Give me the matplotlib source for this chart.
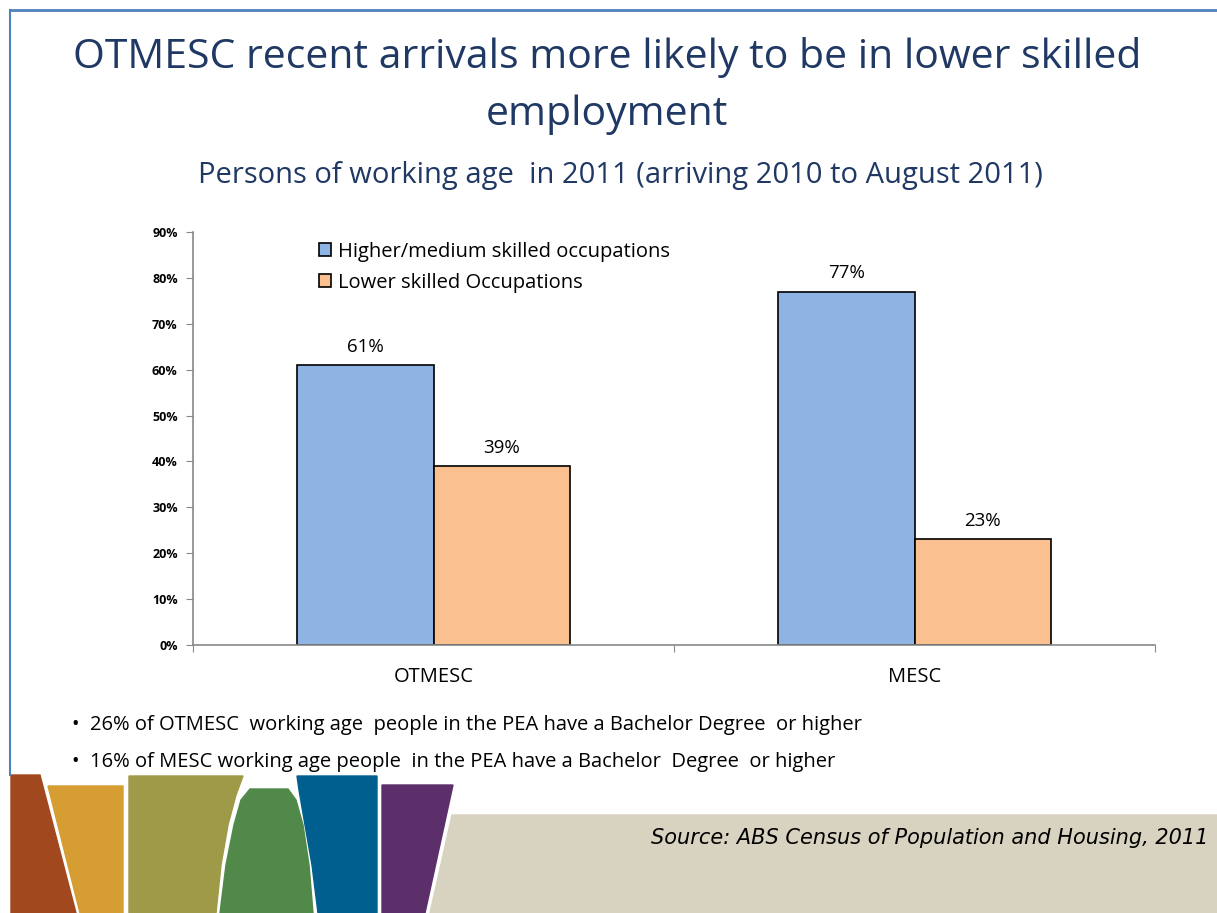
import matplotlib
matplotlib.use("Agg")
import matplotlib.pyplot as plt
import numpy as np
from matplotlib.patches import Polygon

categories = ["OTMESC", "MESC"]
series_names = ["Higher/medium skilled occupations", "Lower skilled Occupations"]
higher = [61, 77]
lower = [39, 23]
yticks = [0, 10, 20, 30, 40, 50, 60, 70, 80, 90]

title_lines = ["OTMESC recent arrivals more likely to be in lower skilled", "employment"]
subtitle = "Persons of working age  in 2011 (arriving 2010 to August 2011)"
bullets = ["•  26% of OTMESC  working age  people in the PEA have a Bachelor Degree  or higher",
           "•  16% of MESC working age people  in the PEA have a Bachelor  Degree  or higher"]
source = "Source: ABS Census of Population and Housing, 2011"

W, H = 1217, 913
fig = plt.figure(figsize=(W / 100, H / 100), dpi=100)
fig.patch.set_facecolor("white")
FONT = "Open Sans"
NAVY = "#1F3864"

def fx(x): return x / W
def fy(y): return 1 - y / H

# slide border
fig.add_artist(plt.Line2D([fx(10), 1], [fy(10), fy(10)], color="#4F81BD", lw=2))
fig.add_artist(plt.Line2D([fx(10), fx(10)], [fy(10), fy(775)], color="#4F81BD", lw=1.5))

# title & subtitle
fig.text(fx(607), fy(58), title_lines[0], ha="center", va="center", fontsize=29.5, color=NAVY,
         family=FONT)
fig.text(fx(607), fy(115), title_lines[1], ha="center", va="center", fontsize=29.5, color=NAVY,
         family=FONT)
fig.text(fx(620), fy(176), subtitle, ha="center", va="center", fontsize=21, color=NAVY,
         family=FONT)

# chart
ax = fig.add_axes([fx(193), fy(645), fx(1155) - fx(193), fy(232) - fy(645)])
x = np.arange(len(categories))
bw = 0.284
b1 = ax.bar(x - bw / 2, higher, bw, color="#8EB4E3", edgecolor="black", lw=1.2,
            label=series_names[0])
b2 = ax.bar(x + bw / 2, lower, bw, color="#FAC090", edgecolor="black", lw=1.2,
            label=series_names[1])
for bars, vals in ((b1, higher), (b2, lower)):
    for r, v in zip(bars, vals):
        ax.text(r.get_x() + r.get_width() / 2, v + 2.0, f"{v}%", ha="center", va="bottom",
                fontsize=13.5, family=FONT)
ax.set_xlim(-0.5, 1.5)
ax.set_ylim(0, 90)
ax.set_yticks(yticks)
ax.set_yticklabels([f"{t}%" for t in yticks], fontsize=9, fontweight="bold", family=FONT)
ax.set_xticks([-0.5, 0.5, 1.5], minor=False)
ax.set_xticklabels([])
ax.set_xticks(x, minor=True)
ax.set_xticklabels(categories, minor=True, fontsize=14.5, family=FONT)
ax.tick_params(axis="x", which="minor", length=0, pad=16)
ax.tick_params(axis="x", which="major", length=5, color="#888888", direction="out")
ax.tick_params(axis="y", length=5, color="#888888", direction="out", pad=6)
for s in ("top", "right"):
    ax.spines[s].set_visible(False)
for s in ("left", "bottom"):
    ax.spines[s].set_color("#888888")
    ax.spines[s].set_linewidth(1.2)
leg = ax.legend(loc="upper left", bbox_to_anchor=(0.112, 1.02), frameon=False,
                prop={"family": FONT, "size": 14.5}, handlelength=0.6, handleheight=0.6,
                handletextpad=0.35, labelspacing=0.55)

# bullets
fig.text(fx(72), fy(725), bullets[0], ha="left", va="center", fontsize=14.5, family=FONT)
fig.text(fx(72), fy(762), bullets[1], ha="left", va="center", fontsize=14.5, family=FONT)

# footer decorations
beige = Polygon([[fx(430), 0], [fx(452), fy(815)], [1, fy(815)], [1, 0]], closed=True,
                transform=fig.transFigure, color="#D8D3C0", zorder=0)
fig.add_artist(beige)
shapes = [
    ("#A2481F", [(11, 913), (11, 775), (40, 775), (76, 913)]),
    ("#D59D32", [(80, 913), (48, 786), (123, 786), (123, 913)]),
    ("#9E9A48", [(129, 913), (129, 776), (243, 776), (236, 795), (228, 825), (221, 865), (216, 913)]),
    ("#50894A", [(220, 913), (226, 865), (234, 825), (241, 800), (250, 789), (288, 789),
                 (296, 800), (303, 825), (309, 865), (313, 913)]),
    ("#015F8F", [(318, 913), (312, 865), (305, 825), (299, 790), (297, 776), (377, 776), (377, 913)]),
    ("#5C2F6B", [(382, 913), (382, 785), (453, 785), (425, 913)]),
]
for col, pts in shapes:
    p = Polygon([[fx(a), fy(b)] for a, b in pts], closed=True, transform=fig.transFigure,
                color=col, zorder=1)
    fig.add_artist(p)

fig.text(fx(1208), fy(838), source, ha="right", va="center", fontsize=15, style="italic",
         family="DejaVu Sans")

fig.savefig("out.png", dpi=100)
